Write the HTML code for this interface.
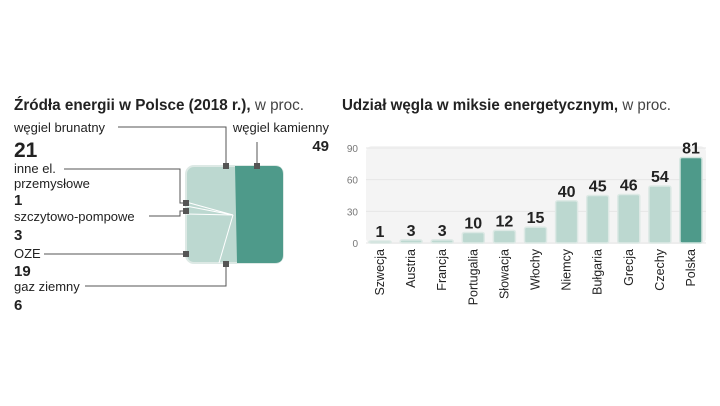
<!DOCTYPE html>
<html><head><meta charset="utf-8"><style>
body{margin:0;width:720px;height:406px;background:#fff;font-family:"Liberation Sans",sans-serif;color:#222;overflow:hidden}
svg{position:absolute;left:0;top:0}
</style></head><body>
<svg width="720" height="406" font-family="Liberation Sans, sans-serif">
<g>
<text x="14" y="110" font-size="15.5" font-weight="bold" fill="#222" textLength="290" lengthAdjust="spacingAndGlyphs">Źródła energii w Polsce (2018 r.),<tspan font-weight="normal" fill="#444"> w proc.</tspan></text>
<rect x="186" y="166" width="97" height="97" rx="8" fill="#bcd8d0" stroke="#dde9e5" stroke-width="2"/>
<path d="M235 166 H275 Q283 166 283 174 V255 Q283 263 275 263 H237 Z" fill="#4e9a8a"/>
<g stroke="#fff" stroke-width="1">
<line x1="233" y1="215" x2="186" y2="202"/><line x1="233" y1="215" x2="186" y2="206"/><line x1="233" y1="215" x2="186" y2="214"/><line x1="233" y1="215" x2="219" y2="263"/></g>
<g stroke="#555" stroke-width="1" fill="none">
<polyline points="118,127 226,127 226,165"/><line x1="257" y1="142" x2="257" y2="165"/>
<polyline points="64,169 180,169 180,203 186,203"/><polyline points="149,216 180,216 180,211 186,211"/>
<line x1="44" y1="254" x2="186" y2="254"/><polyline points="85,286 226,286 226,264"/></g>
<g fill="#555">
<rect x="223" y="163" width="6" height="6"/><rect x="254" y="163" width="6" height="6"/><rect x="183" y="200" width="6" height="6"/><rect x="183" y="208" width="6" height="6"/><rect x="183" y="251" width="6" height="6"/><rect x="223" y="261" width="6" height="6"/></g>
<g font-size="13" fill="#222">
<text x="14" y="132">węgiel brunatny</text>
<text x="14" y="157" font-size="21" font-weight="bold">21</text>
<text x="329" y="132" text-anchor="end">węgiel kamienny</text>
<text x="329" y="151" text-anchor="end" font-size="15" font-weight="bold">49</text>
<text x="14" y="173">inne el.</text>
<text x="14" y="188">przemysłowe</text>
<text x="14" y="205" font-size="15" font-weight="bold">1</text>
<text x="14" y="221">szczytowo-pompowe</text>
<text x="14" y="240" font-size="15" font-weight="bold">3</text>
<text x="14" y="258">OZE</text>
<text x="14" y="276" font-size="15" font-weight="bold">19</text>
<text x="14" y="291">gaz ziemny</text>
<text x="14" y="310" font-size="15" font-weight="bold">6</text>
</g></g>
<g id="bars">
<text x="342" y="110" font-size="15.5" font-weight="bold" fill="#222" textLength="329" lengthAdjust="spacingAndGlyphs">Udział węgla w miksie energetycznym,<tspan font-weight="normal" fill="#444"> w proc.</tspan></text>
<rect x="366" y="146" width="340" height="98" rx="6" fill="#f4f4f4"/>
</g>
</svg>
<script>
const categories=["Szwecja","Austria","Francja","Portugalia","Słowacja","Włochy","Niemcy","Bułgaria","Grecja","Czechy","Polska"];
const values=[1,3,3,10,12,15,40,45,46,54,81];
const tickValues=[0,30,60,90];
const tickLabels=["0","30","60","90"];
const NS="http://www.w3.org/2000/svg";
const g=document.getElementById('bars');
const y=v=>243-v*(95/90);
const x=i=>380+i*31.1;
function mk(t,a){const e=document.createElementNS(NS,t);for(const k in a)e.setAttribute(k,a[k]);g.appendChild(e);return e;}
tickValues.forEach((v,i)=>{
 const l=mk('line',{x1:366,x2:706,y1:y(v),y2:y(v),stroke:'#e6e6e6'});
 
 
 const t=mk('text',{x:358,y:y(v)+4,'text-anchor':'end','font-size':10,fill:'#777'});t.textContent=tickLabels[i];
 
 
});
categories.forEach((c,i)=>{
 const h=Math.max(values[i]*(95/90),2);const last=i===categories.length-1;
 const r=mk('rect',{x:x(i)-11,y:243-h,width:22,height:h,rx:2,fill:last?'#4e9a8a':'#bcd8d0',stroke:last?'#cfe3dd':'#dde9e5','stroke-width':1.5});
 
 
 const v=mk('text',{x:x(i),y:243-h-4,'text-anchor':'middle','font-size':16,'font-weight':'bold',fill:'#222'});v.textContent=values[i];
 
 
 const t=mk('text',{x:0,y:0,'text-anchor':'end','font-size':12.5,fill:'#222',transform:`translate(${x(i)+4},249) rotate(-90)`});t.textContent=c;
 
 
});
</script>
</body></html>
